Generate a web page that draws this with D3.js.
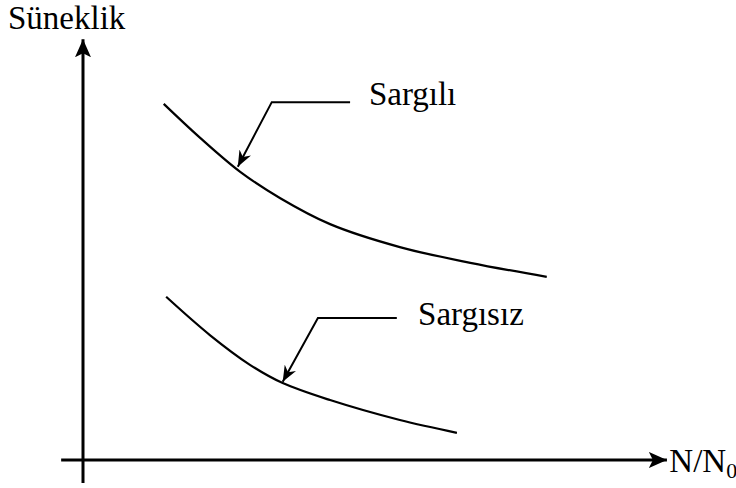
<!DOCTYPE html>
<html>
<head>
<meta charset="utf-8">
<script src="https://cdn.jsdelivr.net/npm/d3@7"></script>
</head>
<body style="margin:0">
<svg id="chart" width="736" height="488" font-family="Liberation Serif, Times New Roman, serif"></svg>
<script>
// values in chart units (0..100 on both axes)
const sargiliX = [13.3, 19.3, 25.9, 32.5, 40.7, 52.2, 63.8, 76.4]
const sargiliY = [83.8, 75.8, 67.8, 61.6, 55.5, 50.1, 46.4, 43.1]
const sargisizX = [13.7, 20.9, 27.5, 32.9, 40.7, 52.2, 61.6]
const sargisizY = [38.4, 29.4, 22.4, 18.1, 14.1, 9.4, 6.4]
const labels = ["Sargılı", "Sargısız"]
// leader: text anchor, elbow start, elbow corner, arrow tip
const leaderX = [[47.1, 44.0, 31.1, 25.5], [55.2, 51.7, 38.7, 32.9]]
const leaderY = [[83.5, 84.2, 84.2, 69.0], [31.8, 33.4, 33.4, 18.4]]

const FONT = "Liberation Serif"
const svg = d3.select("#chart")

const x = d3.scaleLinear().domain([0, 100]).range([83, 690])
const y = d3.scaleLinear().domain([0, 100]).range([460, 35])

const defs = svg.append("defs")
defs.append("marker")
    .attr("id", "axhead")
    .attr("viewBox", "-18 -9 20 18")
    .attr("refX", 0).attr("refY", 0)
    .attr("markerWidth", 20).attr("markerHeight", 18)
    .attr("markerUnits", "userSpaceOnUse")
    .attr("orient", "auto")
  .append("path")
    .attr("d", "M0,0 L-18,-8 L-14,0 L-18,8 Z")
    .attr("fill", "#000")

defs.append("marker")
    .attr("id", "annhead")
    .attr("viewBox", "-16 -7 18 14")
    .attr("refX", 0).attr("refY", 0)
    .attr("markerWidth", 18).attr("markerHeight", 14)
    .attr("markerUnits", "userSpaceOnUse")
    .attr("orient", "auto")
  .append("path")
    .attr("d", "M0,0 L-16,-6.5 L-11,0 L-16,6.5 Z")
    .attr("fill", "#000")

// axes
svg.append("line")
    .attr("x1", x(0)).attr("y1", y(-5.4))
    .attr("x2", x(0)).attr("y2", y(99))
    .attr("stroke", "#000").attr("stroke-width", 3)
    .attr("marker-end", "url(#axhead)")

svg.append("line")
    .attr("x1", x(-3.6)).attr("y1", y(0))
    .attr("x2", x(96.2)).attr("y2", y(0))
    .attr("stroke", "#000").attr("stroke-width", 3)
    .attr("marker-end", "url(#axhead)")

svg.append("text")
    .attr("x", 8).attr("y", 29)
    .attr("font-family", FONT).attr("font-size", 33)
    .text("Süneklik")

const xl = svg.append("text")
    .attr("x", x(96.6)).attr("y", y(0) + 12)
    .attr("font-family", FONT).attr("font-size", 33)
xl.append("tspan").text("N/N")
xl.append("tspan").attr("dy", 6).attr("font-size", 22).text("0")

// curves
const line = d3.line()
    .x(d => x(d[0]))
    .y(d => y(d[1]))
    .curve(d3.curveCatmullRom.alpha(0.5))

const series = [
  d3.zip(sargiliX, sargiliY),
  d3.zip(sargisizX, sargisizY)
]

svg.selectAll(".curve")
  .data(series)
  .join("path")
    .attr("class", "curve")
    .attr("d", line)
    .attr("fill", "none")
    .attr("stroke", "#000")
    .attr("stroke-width", 2.2)

// leaders + labels
labels.forEach((lab, i) => {
  const lx = leaderX[i], ly = leaderY[i]
  svg.append("polyline")
      .attr("points", [1, 2, 3].map(k => x(lx[k]) + "," + y(ly[k])).join(" "))
      .attr("fill", "none")
      .attr("stroke", "#000")
      .attr("stroke-width", 2)
      .attr("marker-end", "url(#annhead)")
  svg.append("text")
      .attr("x", x(lx[0])).attr("y", y(ly[0]))
      .attr("font-family", FONT).attr("font-size", 33)
      .text(lab)
})
</script>
</body>
</html>
